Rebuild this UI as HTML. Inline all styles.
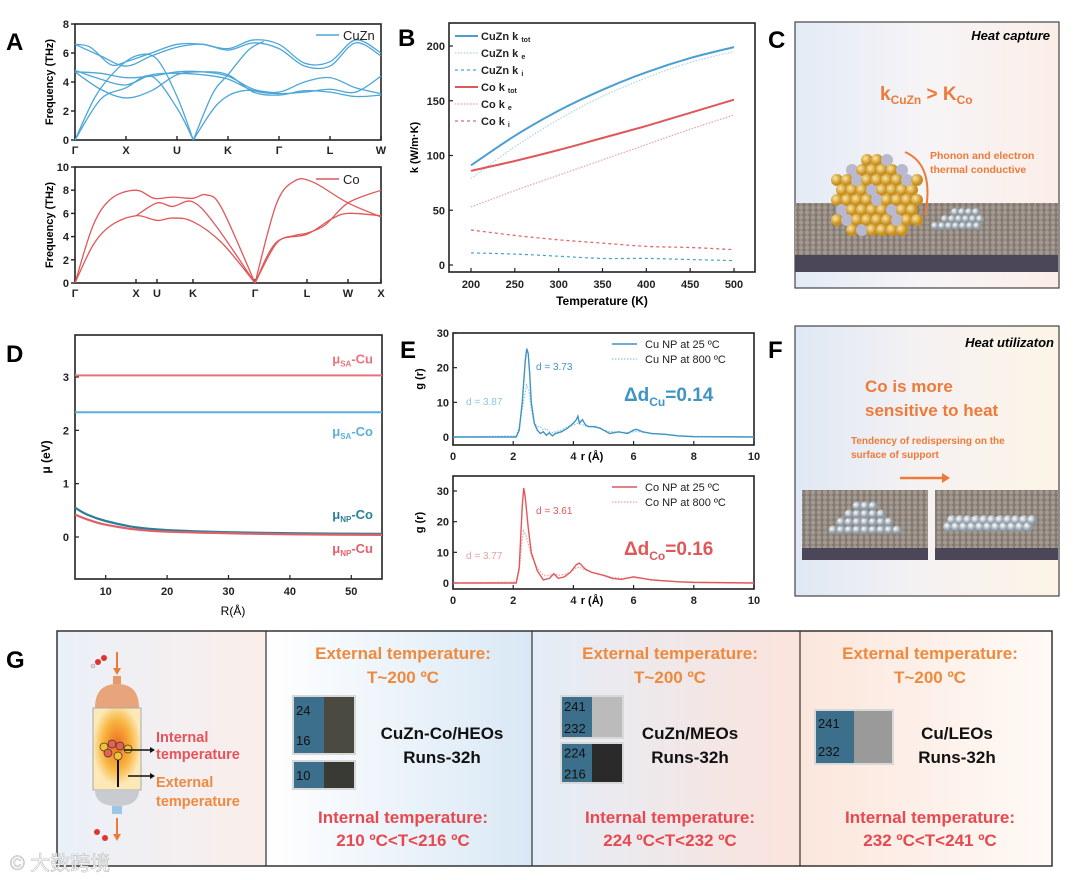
<!DOCTYPE html>
<html><head><meta charset="utf-8">
<style>
html,body{margin:0;padding:0;background:#fff;}
svg{display:block;font-family:"Liberation Sans","Noto Sans CJK SC",sans-serif;}
.b{font-weight:bold;}
.tk{font-size:11px;font-weight:bold;fill:#222;}
</style></head><body>
<svg id="fig" width="1080" height="880" viewBox="0 0 1080 880" xmlns="http://www.w3.org/2000/svg">
<defs>
<linearGradient id="gC" x1="0" x2="1" y1="0" y2="0"><stop offset="0" stop-color="#e3ebf6"/><stop offset="0.5" stop-color="#f7f4f6"/><stop offset="1" stop-color="#fbeee8"/></linearGradient>
<linearGradient id="gF" x1="0" x2="1"><stop offset="0" stop-color="#dfe8f5"/><stop offset="0.5" stop-color="#f6f2f2"/><stop offset="1" stop-color="#fcf4e6"/></linearGradient>
<linearGradient id="gG1" x1="0" x2="1"><stop offset="0" stop-color="#eaf0f8"/><stop offset="1" stop-color="#fbeeea"/></linearGradient>
<linearGradient id="gG2" x1="0" x2="1"><stop offset="0" stop-color="#ffffff"/><stop offset="1" stop-color="#d9e8f5"/></linearGradient>
<linearGradient id="gG3" x1="0" x2="1"><stop offset="0" stop-color="#e4edf7"/><stop offset="1" stop-color="#fbe3dc"/></linearGradient>
<linearGradient id="gG4" x1="0" x2="1"><stop offset="0" stop-color="#fbe6dc"/><stop offset="1" stop-color="#fffaf6"/></linearGradient>
<radialGradient id="gold" cx="0.35" cy="0.35"><stop offset="0" stop-color="#fbe6a0"/><stop offset="1" stop-color="#c88f1e"/></radialGradient>
<radialGradient id="silv" cx="0.35" cy="0.35"><stop offset="0" stop-color="#ffffff"/><stop offset="1" stop-color="#8a98a4"/></radialGradient>
<radialGradient id="hot" cx="0.5" cy="0.45"><stop offset="0" stop-color="#f06a20"/><stop offset="0.6" stop-color="#f8b640"/><stop offset="1" stop-color="#fde9b8"/></radialGradient>
<pattern id="grid" width="6" height="5" patternUnits="userSpaceOnUse"><rect width="6" height="5" fill="#857b73"/><circle cx="3" cy="2.5" r="2.2" fill="#a39a92"/></pattern>
</defs>

<text x="6" y="50" font-size="24" class="b">A</text>
<text x="398" y="46" font-size="24" class="b">B</text>
<text x="768" y="48" font-size="24" class="b">C</text>
<text x="6" y="362" font-size="24" class="b">D</text>
<text x="400" y="358" font-size="24" class="b">E</text>
<text x="768" y="358" font-size="24" class="b">F</text>
<text x="6" y="668" font-size="24" class="b">G</text>

<g id="pA"></g>
<g id="pB"></g>
<g id="pD"></g>
<g id="pE"></g>

<g>
<rect x="795" y="22" width="264" height="266" fill="url(#gC)" stroke="#444" stroke-width="1.2"/>
<text x="1050" y="40" text-anchor="end" font-size="13" font-style="italic" class="b">Heat capture</text>
<text x="880" y="100" font-size="19" fill="#ee7a3a" class="b">k<tspan font-size="12" dy="4">CuZn</tspan><tspan dy="-4"> &gt; K</tspan><tspan font-size="12" dy="4">Co</tspan></text>
<text x="930" y="159" font-size="10.5" fill="#ee7a3a" class="b">Phonon and electron</text>
<text x="930" y="173" font-size="10.5" fill="#ee7a3a" class="b">thermal conductive</text>
<polygon points="795,203 1058,203 1058,262 795,272" fill="url(#grid)"/>
<rect x="795" y="255" width="263" height="17" fill="#4b4658"/>
<g id="cluster"></g>
<path d="M905,152 Q935,165 925,215" fill="none" stroke="#ee7a3a" stroke-width="2"/>
</g>

<g>
<rect x="795" y="326" width="264" height="270" fill="url(#gF)" stroke="#444" stroke-width="1.2"/>
<text x="1054" y="347" text-anchor="end" font-size="13" font-style="italic" class="b">Heat utilizaton</text>
<text x="865" y="392" font-size="17" fill="#ee7a3a" class="b">Co is more</text>
<text x="865" y="416" font-size="17" fill="#ee7a3a" class="b">sensitive to heat</text>
<text x="851" y="444" font-size="10" fill="#ee7a3a" class="b">Tendency of redispersing on the</text>
<text x="851" y="458" font-size="10" fill="#ee7a3a" class="b">surface of support</text>
<line x1="900" y1="478" x2="942" y2="478" stroke="#ee7a3a" stroke-width="2.5"/>
<polygon points="942,473 950,478 942,483" fill="#ee7a3a"/>
<rect x="802" y="490" width="126" height="70" fill="url(#grid)"/>
<rect x="802" y="548" width="126" height="12" fill="#4b4658"/>
<rect x="935" y="490" width="123" height="70" fill="url(#grid)"/>
<rect x="935" y="548" width="123" height="12" fill="#4b4658"/>
<g id="fballs"></g>
</g>

<g>
<rect x="57" y="631" width="209" height="235" fill="url(#gG1)"/>
<rect x="266" y="631" width="266" height="235" fill="url(#gG2)"/>
<rect x="532" y="631" width="268" height="235" fill="url(#gG3)"/>
<rect x="800" y="631" width="252" height="235" fill="url(#gG4)"/>
<rect x="57" y="631" width="995" height="235" fill="none" stroke="#333" stroke-width="1.5"/>
<line x1="266" y1="631" x2="266" y2="866" stroke="#333" stroke-width="1.2"/>
<line x1="532" y1="631" x2="532" y2="866" stroke="#333" stroke-width="1.2"/>
<line x1="800" y1="631" x2="800" y2="866" stroke="#333" stroke-width="1.2"/>
<g>
<line x1="117" y1="652" x2="117" y2="670" stroke="#ee7a3a" stroke-width="2"/><polygon points="113,668 117,675 121,668" fill="#ee7a3a"/>
<circle cx="98" cy="662" r="3" fill="#d33"/><circle cx="104" cy="658" r="3" fill="#d33"/><circle cx="93" cy="666" r="2" fill="#ddd" stroke="#999" stroke-width="0.5"/>
<rect x="113" y="676" width="8" height="8" fill="#e39a6c"/>
<path d="M95,708 Q95,684 117,684 Q139,684 139,708 Z" fill="#e8a47a"/>
<rect x="93" y="708" width="48" height="82" fill="url(#hot)" stroke="#aaa"/>
<path d="M95,790 Q95,806 117,806 Q139,806 139,790 Z" fill="#c8ccd0"/>
<rect x="112" y="806" width="10" height="8" fill="#9cc8e8"/>
<line x1="117" y1="818" x2="117" y2="836" stroke="#ee7a3a" stroke-width="2"/><polygon points="113,834 117,841 121,834" fill="#ee7a3a"/>
<circle cx="97" cy="832" r="3" fill="#d33"/><circle cx="105" cy="838" r="3" fill="#d33"/>
<g fill="#f8c030" stroke="#333" stroke-width="0.7"><circle cx="104" cy="747" r="4"/><circle cx="112" cy="744" r="4" fill="#e86050"/><circle cx="120" cy="746" r="4" fill="#e86050"/><circle cx="128" cy="749" r="4"/><circle cx="108" cy="753" r="4" fill="#e86050"/><circle cx="118" cy="756" r="4"/></g>
<line x1="124" y1="750" x2="150" y2="750" stroke="#111" stroke-width="1.5"/><polygon points="150,747 155,750 150,753" fill="#111"/>
<line x1="118" y1="760" x2="118" y2="787" stroke="#111" stroke-width="2"/>
<line x1="128" y1="776" x2="150" y2="776" stroke="#111" stroke-width="1.5"/><polygon points="150,773 155,776 150,779" fill="#111"/>
</g>
<text x="156" y="742" font-size="14.5" fill="#e8525a" class="b">Internal</text>
<text x="156" y="759" font-size="14.5" fill="#e8525a" class="b">temperature</text>
<text x="156" y="787" font-size="14.5" fill="#ee8a40" class="b">External</text>
<text x="156" y="806" font-size="14.5" fill="#ee8a40" class="b">temperature</text>
<g id="gCols"></g>
<text x="10" y="870" font-size="20" fill="#fff" stroke="#bbb" stroke-width="0.6">© 大数跨境</text>
</g>
</svg>
<script>
const cuznTickLabels = ["Γ","X","U","K","Γ","L","W"];
const cuznTickK = [0,1,2,3,4,5,6];
const cuznBands = [
 [[0,6.6],[0.3,6.4],[0.7,5.2],[1,5.4],[1.5,6.0],[2,6.6],[2.5,6.6],[3,6.3],[3.5,6.9],[4,6.6],[4.5,5.3],[5,5.4],[5.5,6.9],[6,6.0]],
 [[0,6.6],[0.5,5.8],[1,5.1],[1.5,5.8],[2,6.4],[2.5,6.6],[3,6.2],[3.5,6.7],[4,6.3],[4.5,5.1],[5,5.1],[5.5,6.7],[6,5.8]],
 [[0,4.7],[0.5,4.6],[1,4.3],[1.5,4.4],[2,4.7],[2.5,4.7],[3,4.4],[3.5,3.5],[4,3.3],[4.5,4.0],[5,4.3],[5.5,3.6],[6,3.2]],
 [[0,4.8],[0.5,4.2],[1,3.8],[1.5,4.5],[2,4.6],[2.5,4.5],[3,4.2],[3.5,3.4],[4,3.2],[4.5,3.3],[5,3.5],[5.5,3.3],[6,4.4]],
 [[0,4.7],[0.5,3.5],[1,2.9],[1.5,3.4],[2,4.5],[2.5,4.7],[3,4.5],[3.5,3.3],[4,3.1],[4.5,3.4],[5,3.3],[5.5,3.0],[6,3.1]],
 [[0,0],[0.4,3.0],[0.8,4.8],[1.2,5.8],[1.6,5.6],[2,3.0],[2.32,0]],
 [[0,0],[0.5,2.8],[1,3.6],[1.5,4.4],[2,2.2],[2.32,0]],
 [[2.32,0],[2.8,2.5],[3.3,3.4],[4,3.2]],
 [[2.32,0],[2.7,3.2],[3,4.5],[3.4,6.2],[3.7,6.8]]
];
const coTickLabels = ["Γ","X","U","K","Γ","L","W","X"];
const coTickK = [0,1,1.344,1.934,2.951,3.803,4.475,5.016];
const coBands = [
 [[0,0],[0.3,5],[0.6,7.3],[1,8.0],[1.3,7.3],[1.6,7.4],[1.93,7.3],[2.15,7.6],[2.4,6.5],[2.951,0]],
 [[0,0],[0.3,3.3],[0.6,5.0],[1,5.8],[1.344,5.4],[1.6,5.6],[1.93,5.3],[2.4,3.5],[2.951,0]],
 [[1,5.8],[1.344,6.9],[1.6,6.6],[1.93,7.0],[2.3,5.0],[2.951,0]],
 [[2.951,0],[3.3,6.8],[3.6,8.8],[3.9,8.7],[4.475,6.9],[5.016,5.7]],
 [[2.951,0],[3.3,3.4],[3.6,4.1],[3.803,4.3],[4.1,5.0],[4.475,6.9],[5.016,8.0]],
 [[2.951,0],[3.3,3.5],[3.803,4.2],[4.2,5.5],[4.475,6.0],[5.016,5.8]]
];
const tempK = [200,250,300,350,400,450,500];
const cuznKtot = [91,118,141,160,176,189,199];
const cuznKe = [79,108,133,154,171,185,195];
const cuznKi = [11,10,8,6,6,5,4];
const coKtot = [86,95,105,116,127,139,151];
const coKe = [53,68,82,96,110,124,137];
const coKi = [32,27,23,20,17,16,14];
const bLegend = ["CuZn k","CuZn k","CuZn k","Co k","Co k","Co k"];
const bLegendSub = ["tot","e","i","tot","e","i"];
const radiusR = [5,7,10,15,20,30,40,55];
const muNPCo = [0.55,0.42,0.30,0.18,0.13,0.09,0.07,0.06];
const muNPCu = [0.42,0.33,0.23,0.14,0.10,0.07,0.05,0.04];
const muSACu = 3.03;
const muSACo = 2.34;
const rCu = [0,2.1,2.2,2.3,2.4,2.45,2.5,2.55,2.6,2.7,2.8,2.9,3.0,3.1,3.2,3.3,3.4,3.6,3.8,4.0,4.1,4.15,4.2,4.3,4.4,4.5,4.7,4.9,5.0,5.2,5.5,5.8,6.0,6.1,6.3,6.6,7,7.5,8,10];
const gCu25 = [0,0,2,10,22,25.5,24,18,10,4,2,1,1.5,0.5,1.2,0.3,1,1.5,2.5,4,5,6,4,5,3.5,3,3,2.5,2,1,1.5,1,2,2.2,1.5,1,0.8,0.3,0.1,0];
const gCu800 = [0,0.3,3,8,13,15,14,12,8,4,3,3,2,2.5,1.5,1.2,1.5,2,3,3.5,3.8,4,3.8,3.5,3.2,3,2.8,2.4,2,1.6,1.4,1.3,1.5,1.6,1.4,1.1,0.8,0.4,0.2,0];
const rCo = [0,2.1,2.2,2.3,2.35,2.4,2.5,2.6,2.8,3.0,3.2,3.35,3.5,3.7,3.9,4.1,4.2,4.4,4.6,4.8,5.0,5.3,5.6,6.0,6.3,6.6,7,7.5,8,10];
const gCo25 = [0,0,5,25,31,28,18,10,4,1,1.5,3,1.5,2,3.5,6,6.5,4.5,3.5,3,2.5,1.5,1.2,2,1.5,1,0.7,0.4,0.2,0];
const gCo800 = [0,0.3,4,14,17,16,13,9,5,2.5,2.5,3,2.5,2.8,3.5,5,5.2,4.2,3.5,3,2.6,1.8,1.5,1.8,1.5,1.1,0.8,0.4,0.2,0];

const NS="http://www.w3.org/2000/svg";
function mk(tag,attrs,parent,txt){const e=document.createElementNS(NS,tag);for(const k in attrs)e.setAttribute(k,attrs[k]);if(txt!==undefined)e.textContent=txt;parent.appendChild(e);return e;}
function lin(d0,d1,r0,r1){return v=>r0+(v-d0)*(r1-r0)/(d1-d0);}
function smooth(pts){
 if(pts.length<3)return "M"+pts.map(p=>p.join(",")).join("L");
 let d="M"+pts[0][0]+","+pts[0][1];
 for(let i=0;i<pts.length-1;i++){const p0=pts[i-1]||pts[i],p1=pts[i],p2=pts[i+1],p3=pts[i+2]||p2;
  d+="C"+(p1[0]+(p2[0]-p0[0])/6)+","+(p1[1]+(p2[1]-p0[1])/6)+" "+(p2[0]-(p3[0]-p1[0])/6)+","+(p2[1]-(p3[1]-p1[1])/6)+" "+p2[0]+","+p2[1];}
 return d;}
function frame(g,x0,y0,x1,y1){const r=mk('rect',{x:x0,y:y0,width:x1-x0,height:y1-y0,fill:'none',stroke:'#222','stroke-width':1.6},g);}

(function(){
 const g=document.getElementById('pA');
 function bandPlot(x0,x1,y0,y1,kmax,fmax,fstep,ticksK,labels,bands,color,legend,ly){
  const X=lin(0,kmax,x0,x1),Y=lin(0,fmax,y1,y0);
  frame(g,x0,y0,x1,y1);
  for(let f=0;f<=fmax;f+=fstep){const t=mk('line',{x1:x0,x2:x0-4,y1:Y(f),y2:Y(f),stroke:'#222','stroke-width':1.4},g);
   const l=mk('text',{x:x0-6,y:Y(f)+4,'text-anchor':'end',class:'tk','font-size':12},g,String(f));}
  ticksK.forEach((k,i)=>{const t=mk('line',{x1:X(k),x2:X(k),y1:y1,y2:y1-4,stroke:'#222','stroke-width':1.4},g);
   const l=mk('text',{x:X(k),y:y1+14,'text-anchor':'middle',class:'tk','font-size':12},g,labels[i]);});
  bands.forEach(b=>{const p=mk('path',{d:smooth(b.map(q=>[X(q[0]),Y(q[1])])),fill:'none',stroke:color,'stroke-width':1.3},g);});
  const ll=mk('line',{x1:x1-65,x2:x1-42,y1:ly,y2:ly,stroke:color,'stroke-width':1.5},g);
  const lt=mk('text',{x:x1-38,y:ly+5,'font-size':13,fill:'#222'},g,legend);
  const yl=mk('text',{x:0,y:0,'font-size':11,class:'b',transform:`translate(${x0-22},${(y0+y1)/2}) rotate(-90)`,'text-anchor':'middle'},g,'Frequency (THz)');
 }
 bandPlot(75,381,24,140,6,8,2,cuznTickK,cuznTickLabels,cuznBands,'#4da6d8','CuZn',35);
 bandPlot(75,381,167,283,5.016,10,2,coTickK,coTickLabels,coBands,'#e0575a','Co',179);
})();

(function(){
 const g=document.getElementById('pB');
 const x0=449,x1=755,y0=23,y1=272;
 const X=lin(200,500,471,734),Y=lin(0,200,265,46);
 frame(g,x0,y0,x1,y1);
 for(let v=0;v<=200;v+=50){const t=mk('line',{x1:x0,x2:x0+4,y1:Y(v),y2:Y(v),stroke:'#222','stroke-width':1.2},g);
  const l=mk('text',{x:x0-4,y:Y(v)+4,'text-anchor':'end',class:'tk'},g,String(v));}
 for(let v=200;v<=500;v+=50){const t=mk('line',{x1:X(v),x2:X(v),y1:y1,y2:y1-4,stroke:'#222','stroke-width':1.2},g);
  const l=mk('text',{x:X(v),y:y1+16,'text-anchor':'middle',class:'tk','font-size':12},g,String(v));}
 const xt=mk('text',{x:(x0+x1)/2,y:305,'text-anchor':'middle','font-size':12,class:'b'},g,'Temperature (K)');
 const yt=mk('text',{x:0,y:0,'font-size':11,class:'b','text-anchor':'middle',transform:`translate(418,${(y0+y1)/2}) rotate(-90)`},g,'k (W/m·K)');
 const series=[[cuznKtot,'#4a9fd0',2,''],[cuznKe,'#a8d4ec',1.2,'1.5,1.5'],[cuznKi,'#4a9fd0',1.2,'3,3'],[coKtot,'#e0575a',2,''],[coKe,'#eaa0a0',1.2,'1.5,1.5'],[coKi,'#e06a6a',1.3,'3,3']];
 series.forEach((s,i)=>{const p=mk('path',{d:smooth(tempK.map((t,j)=>[X(t),Y(s[0][j])])),fill:'none',stroke:s[1],'stroke-width':s[2],'stroke-dasharray':s[3]},g);
  const ly=36+i*17;
  const ll=mk('line',{x1:455,x2:478,y1:ly,y2:ly,stroke:s[1],'stroke-width':s[2],'stroke-dasharray':s[3]},g);
  const lt=mk('text',{x:481,y:ly+4,'font-size':11,class:'b',fill:'#222'},g);
  lt.textContent=bLegend[i]+' ';mk('tspan',{'font-size':7,dy:2},lt,bLegendSub[i]);});
})();

(function(){
 const g=document.getElementById('pD');
 const x0=75,x1=382,y0=335,y1=579;
 const X=lin(5,55,75,382),Y=lin(0,3,537,377);
 frame(g,x0,y0,x1,y1);
 for(let v=0;v<=3;v++){const t=mk('line',{x1:x0,x2:x0+4,y1:Y(v),y2:Y(v),stroke:'#222','stroke-width':1.2},g);
  const l=mk('text',{x:x0-6,y:Y(v)+4,'text-anchor':'end',class:'tk','font-size':12},g,String(v));}
 for(let v=10;v<=50;v+=10){const t=mk('line',{x1:X(v),x2:X(v),y1:y1,y2:y1-4,stroke:'#222','stroke-width':1.2},g);
  const l=mk('text',{x:X(v),y:y1+16,'text-anchor':'middle',class:'tk','font-size':12},g,String(v));}
 const xt=mk('text',{x:233,y:615,'text-anchor':'middle','font-size':12},g,'R(Å)');
 const yt=mk('text',{x:0,y:0,'font-size':12,class:'b','text-anchor':'middle',transform:`translate(50,457) rotate(-90)`},g,'μ (eV)');
 const h1=mk('line',{x1:x0,x2:x1,y1:Y(muSACu),y2:Y(muSACu),stroke:'#e8737a','stroke-width':2},g);
 const h2=mk('line',{x1:x0,x2:x1,y1:Y(muSACo),y2:Y(muSACo),stroke:'#5ab0dc','stroke-width':2},g);
 const c1=mk('path',{d:smooth(radiusR.map((r,i)=>[X(r),Y(muNPCo[i])])),fill:'none',stroke:'#2a7f98','stroke-width':2.2},g);
 const c2=mk('path',{d:smooth(radiusR.map((r,i)=>[X(r),Y(muNPCu[i])])),fill:'none',stroke:'#e0606a','stroke-width':2.2},g);
 const labs=[['SA','-Cu',Y(muSACu)-12,'#e8737a','mu-sa-cu-label'],['SA','-Co',Y(muSACo)+24,'#5ab0dc','mu-sa-co-label'],['NP','-Co',Y(muNPCo[7])-15,'#2a7f98','mu-np-co-label'],['NP','-Cu',Y(muNPCu[7])+18,'#e0606a','mu-np-cu-label']];
 labs.forEach(l=>{const t=mk('text',{x:373,y:l[2],'text-anchor':'end','font-size':13,class:'b',fill:l[3]},g,'μ');mk('tspan',{'font-size':8,dy:3},t,l[0]);mk('tspan',{dy:-3},t,l[1]);});
})();

(function(){
 const g=document.getElementById('pE');
 function gr(y0,y1,yTop,yZero,r,a,b,col,colLight,legA,legB,dA,dB,dAy,dBy,delta,sub){
  const x0=453,x1=754;
  const X=lin(0,10,453,754),Y=lin(0,30,yZero,yTop);
  frame(g,x0,y0,x1,y1);
  for(let v=0;v<=30;v+=10){const t=mk('line',{x1:x0,x2:x0+4,y1:Y(v),y2:Y(v),stroke:'#222','stroke-width':1.2},g);
   const l=mk('text',{x:x0-4,y:Y(v)+4,'text-anchor':'end',class:'tk'},g,String(v));}
  for(let v=0;v<=10;v+=2){const t=mk('line',{x1:X(v),x2:X(v),y1:y1,y2:y1-4,stroke:'#222','stroke-width':1.2},g);
   const l=mk('text',{x:X(v),y:y1+15,'text-anchor':'middle',class:'tk'},g,String(v));}
  const xt=mk('text',{x:592,y:y1+15,'text-anchor':'middle','font-size':11,class:'b'},g,'r (Å)');
  const yt=mk('text',{x:0,y:0,'font-size':11,class:'b','text-anchor':'middle',transform:`translate(423,${(y0+y1)/2-10}) rotate(-90)`},g,'g (r)');
  const pb=mk('polyline',{points:r.map((v,i)=>X(v)+','+Y(b[i])).join(' '),fill:'none',stroke:colLight,'stroke-width':1.2,'stroke-dasharray':'1.5,1.5'},g);
  const pa=mk('polyline',{points:r.map((v,i)=>X(v)+','+Y(a[i])).join(' '),fill:'none',stroke:col,'stroke-width':1.4},g);
  const ly=y0+11;
  const l1=mk('line',{x1:612,x2:637,y1:ly,y2:ly,stroke:col,'stroke-width':1.5},g);
  const t1=mk('text',{x:645,y:ly+4,'font-size':11,fill:'#222'},g,legA);
  const l2=mk('line',{x1:612,x2:637,y1:ly+15,y2:ly+15,stroke:colLight,'stroke-width':1.2,'stroke-dasharray':'1.5,1.5'},g);
  const t2=mk('text',{x:645,y:ly+19,'font-size':11,fill:'#222'},g,legB);
  const da=mk('text',{x:536,y:dAy,'font-size':10,fill:col},g,dA);
  const db=mk('text',{x:466,y:dBy,'font-size':10,fill:colLight},g,dB);
  const dt=mk('text',{x:624,y:dBy-4,'font-size':19,class:'b',fill:col},g,'Δd');
  mk('tspan',{'font-size':12,dy:5},dt,sub);mk('tspan',{dy:-5},dt,'=0.'+delta);
 }
 gr(333,445,333,437,rCu,gCu25,gCu800,'#3f94c4','#8cc6e4','Cu NP at 25 ºC','Cu NP at 800 ºC','d = 3.73','d = 3.87',370,405,'14','Cu');
 gr(476,589,491,583,rCo,gCo25,gCo800,'#e0575a','#eea0a0','Co NP at 25 ºC','Co NP at 800 ºC','d = 3.61','d = 3.77',514,559,'16','Co');
})();

(function(){
 const cl=document.getElementById('cluster');
 const cx=877,cy=200;
 for(let i=-4;i<=4;i++)for(let j=-4;j<=3;j++){const x=cx+i*10+(j%2?5:0),y=cy+j*10;const dx=(x-cx)/46,dy=(y-cy)/44;if(dx*dx+dy*dy>1)continue;
  const c=mk('circle',{cx:x,cy:y,r:6,fill:((i*7+j*3)%5===0)?'#b8b8d0':'url(#gold)'},cl);}
 for(let i=0;i<7;i++)for(let j=0;j<3;j++){if(i<j||i>6-j+1)continue;const c=mk('circle',{cx:935+i*7+j*3,cy:226-j*7,r:4,fill:'url(#silv)'},cl);}
 const fb=document.getElementById('fballs');
 for(let i=0;i<9;i++)for(let j=0;j<4;j++){if(j>i||j>8-i)continue;const c=mk('circle',{cx:833+i*8,cy:530-j*8,r:4.5,fill:'url(#silv)'},fb);}
 for(let i=0;i<11;i++)for(let j=0;j<2;j++){const c=mk('circle',{cx:948+i*8+(j?4:0),cy:527-j*7,r:5,fill:'url(#silv)'},fb);}
})();

(function(){
 const g=document.getElementById('gCols');
 const cols=[
  {cx:403,name:'CuZn-Co/HEOs',nx:442,inner:'210 ºC<T<216 ºC',pieces:[[292,695,64,60,['24','16'],'#4a4a40'],[292,760,64,30,['10'],'#3a3a34']]},
  {cx:670,name:'CuZn/MEOs',nx:690,inner:'224 ºC<T<232 ºC',pieces:[[560,695,64,44,['241','232'],'#bbbbbb'],[560,742,64,42,['224','216'],'#2a2a2a']]},
  {cx:930,name:'Cu/LEOs',nx:957,inner:'232 ºC<T<241 ºC',pieces:[[814,709,80,56,['241','232'],'#9a9a9a']]}];
 cols.forEach((c,i)=>{
  const t1=mk('text',{x:c.cx,y:659,'text-anchor':'middle','font-size':17,fill:'#ef8a3c',class:'b'},g,'External temperature:');
  const t2=mk('text',{x:c.cx,y:683,'text-anchor':'middle','font-size':17,fill:'#ef8a3c',class:'b'},g,'T~200 ºC');
  const t3=mk('text',{x:c.cx,y:823,'text-anchor':'middle','font-size':17,fill:'#e8484f',class:'b'},g,'Internal temperature:');
  const t4=mk('text',{x:c.cx,y:846,'text-anchor':'middle','font-size':17,fill:'#e8484f',class:'b'},g,c.inner);
  const n1=mk('text',{x:c.nx,y:739,'text-anchor':'middle','font-size':17,fill:'#111',class:'b'},g,c.name);
  const n2=mk('text',{x:c.nx,y:763,'text-anchor':'middle','font-size':17,fill:'#111',class:'b'},g,'Runs-32h');
  c.pieces.forEach(p=>{
   const bg=mk('rect',{x:p[0],y:p[1],width:p[2],height:p[3],fill:'#d8d8d8'},g);
   const b1=mk('rect',{x:p[0]+2,y:p[1]+2,width:p[2]/2-2,height:p[3]-4,fill:'#3b6f8c'},g);
   const b2=mk('rect',{x:p[0]+p[2]/2,y:p[1]+2,width:p[2]/2-2,height:p[3]-4,fill:p[5]},g);
   const n=p[4].length;
   p[4].forEach((s,k)=>{const t=mk('text',{x:p[0]+4,y:p[1]+(k+0.5)*p[3]/n+5,'font-size':13,fill:'#111'},g,s);});
  });
 });
})();
</script>
</body></html>
